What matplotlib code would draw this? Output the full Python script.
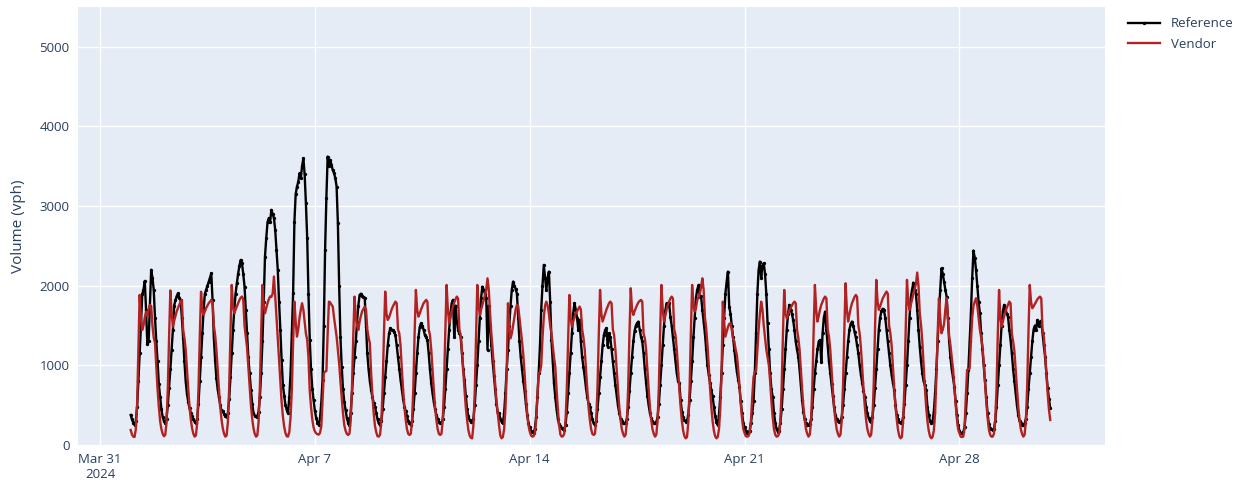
import matplotlib
matplotlib.use("Agg")
import matplotlib.pyplot as plt
import numpy as np
import pandas as pd

# hourly volumes (vph), one row per day, Apr 1 - Apr 30 2024
ref_hourly = [
    [377, 320, 280, 250, 300, 480, 800, 1150, 1500, 1890, 1950, 2060, 1700, 1270, 1300, 1750, 2200, 2100, 1950, 1600, 1300, 1050, 760, 600],
    [450, 350, 300, 272, 330, 500, 720, 950, 1190, 1450, 1750, 1820, 1870, 1905, 1850, 1820, 1600, 1340, 1050, 800, 640, 540, 460, 400],
    [360, 320, 290, 276, 330, 520, 800, 1100, 1400, 1700, 1900, 1950, 2000, 2050, 2100, 2157, 1820, 1350, 1068, 838, 700, 600, 500, 430],
    [430, 390, 370, 356, 400, 580, 850, 1150, 1450, 1700, 1900, 2031, 2150, 2250, 2324, 2280, 2150, 1990, 1700, 1403, 1100, 900, 692, 520],
    [400, 370, 360, 356, 420, 600, 900, 1300, 1800, 2366, 2600, 2800, 2850, 2800, 2952, 2900, 2850, 2700, 2450, 2198, 1800, 1450, 1068, 750],
    [620, 500, 440, 398, 600, 900, 1400, 1905, 2800, 3150, 3245, 3300, 3413, 3350, 3500, 3601, 3400, 3036, 2600, 1900, 1319, 950, 700, 560],
    [430, 340, 280, 251, 330, 520, 816, 1500, 2449, 3100, 3622, 3500, 3580, 3520, 3450, 3413, 3350, 3245, 2784, 2000, 1350, 984, 700, 540],
    [440, 340, 280, 251, 400, 650, 900, 1100, 1300, 1550, 1750, 1884, 1900, 1870, 1860, 1850, 1487, 1150, 950, 800, 690, 600, 530, 481],
    [400, 320, 270, 251, 300, 450, 650, 850, 1050, 1250, 1400, 1466, 1450, 1440, 1420, 1380, 1250, 1100, 960, 820, 700, 580, 480, 430],
    [360, 300, 270, 251, 300, 450, 650, 900, 1150, 1350, 1480, 1529, 1500, 1450, 1382, 1350, 1319, 1150, 950, 780, 649, 540, 450, 380],
    [330, 290, 275, 272, 320, 480, 700, 950, 1200, 1450, 1650, 1780, 1822, 1361, 1750, 1550, 1450, 1400, 1361, 1150, 950, 817, 620, 450],
    [360, 310, 290, 293, 330, 500, 750, 1000, 1300, 1600, 1850, 1989, 1950, 1900, 1850, 1194, 1750, 1500, 1250, 1050, 870, 700, 520, 400],
    [400, 330, 290, 272, 400, 650, 950, 1194, 1500, 1750, 1950, 2052, 2000, 1960, 1900, 1600, 1300, 1100, 950, 800, 680, 520, 380, 280],
    [220, 180, 160, 147, 200, 350, 600, 900, 1236, 1700, 2000, 2261, 2100, 1947, 2100, 2177, 1800, 1319, 1050, 775, 600, 450, 330, 260],
    [240, 210, 195, 188, 250, 420, 650, 900, 1150, 1400, 1650, 1780, 1700, 1600, 1445, 1570, 1300, 1100, 980, 859, 720, 600, 520, 481],
    [400, 320, 270, 251, 300, 450, 650, 850, 1050, 1250, 1380, 1440, 1466, 1236, 1400, 1350, 1200, 1050, 900, 750, 620, 500, 400, 330],
    [300, 280, 272, 275, 330, 480, 680, 900, 1100, 1300, 1430, 1500, 1530, 1550, 1450, 1361, 1300, 1150, 950, 780, 620, 500, 400, 340],
    [300, 280, 272, 285, 350, 520, 750, 1000, 1250, 1500, 1680, 1780, 1760, 1780, 1612, 1500, 1350, 1200, 1050, 900, 800, 775, 560, 420],
    [350, 310, 293, 300, 380, 560, 800, 1050, 1350, 1600, 1850, 1950, 2010, 1860, 1870, 1700, 1550, 1400, 1200, 1000, 880, 780, 690, 610],
    [480, 360, 290, 251, 380, 600, 900, 1250, 1600, 1900, 2050, 2177, 1738, 1650, 1500, 1350, 1194, 1050, 920, 820, 733, 550, 400, 280],
    [220, 180, 155, 147, 180, 280, 400, 550, 900, 1400, 1900, 2200, 2303, 2100, 2250, 2282, 2150, 1900, 1529, 1200, 900, 700, 605, 400],
    [280, 200, 168, 180, 280, 450, 700, 950, 1200, 1450, 1650, 1759, 1700, 1650, 1570, 1450, 1300, 1200, 1109, 950, 750, 560, 420, 320],
    [270, 255, 251, 265, 320, 480, 700, 900, 1050, 1200, 1300, 1319, 1046, 1400, 1600, 1675, 1450, 1250, 1050, 900, 760, 620, 480, 380],
    [330, 300, 293, 295, 350, 500, 700, 900, 1100, 1300, 1450, 1520, 1550, 1500, 1420, 1350, 1250, 1150, 1000, 880, 780, 680, 607, 480],
    [400, 340, 300, 293, 350, 500, 720, 950, 1200, 1450, 1600, 1680, 1710, 1690, 1600, 1450, 1300, 1150, 1000, 880, 780, 690, 500, 380],
    [330, 290, 275, 280, 350, 520, 750, 1000, 1300, 1600, 1850, 1950, 2039, 1947, 1900, 1700, 1450, 1236, 1050, 900, 800, 750, 690, 480],
    [380, 300, 272, 290, 420, 650, 950, 1300, 1650, 1950, 2219, 2150, 2050, 1950, 1863, 1600, 1300, 1100, 950, 850, 733, 550, 380, 250],
    [180, 150, 148, 160, 220, 400, 650, 942, 1300, 1654, 2100, 2441, 2350, 2198, 2000, 1800, 1654, 1400, 1200, 1000, 817, 600, 400, 260],
    [210, 195, 188, 200, 300, 480, 750, 1000, 1250, 1500, 1680, 1759, 1700, 1650, 1612, 1450, 1319, 1150, 950, 800, 650, 500, 380, 300],
    [270, 251, 255, 270, 330, 480, 700, 900, 1100, 1300, 1450, 1500, 1450, 1570, 1500, 1550, 1560, 1400, 1250, 1109, 900, 720, 580, 461],
]

vendor_hourly = [
    [188, 130, 105, 100, 200, 500, 1200, 1885, 1600, 1445, 1500, 1600, 1675, 1620, 1700, 1760, 1740, 1500, 1350, 1280, 1000, 700, 480, 300],
    [200, 140, 110, 126, 280, 700, 1350, 1940, 1650, 1487, 1560, 1620, 1680, 1720, 1760, 1800, 1820, 1450, 1340, 1200, 950, 700, 480, 320],
    [210, 140, 105, 120, 280, 700, 1350, 1925, 1700, 1633, 1680, 1720, 1750, 1780, 1800, 1822, 1800, 1500, 1380, 1200, 950, 700, 480, 320],
    [210, 140, 105, 120, 290, 720, 1400, 2010, 1750, 1654, 1700, 1740, 1780, 1820, 1850, 1864, 1830, 1500, 1361, 1220, 980, 720, 500, 330],
    [210, 140, 105, 120, 290, 720, 1400, 2010, 1750, 1654, 1720, 1780, 1830, 1864, 1860, 1900, 2115, 1870, 1600, 1350, 1050, 780, 540, 360],
    [230, 150, 110, 105, 160, 350, 700, 1300, 1800, 1550, 1361, 1450, 1600, 1700, 1780, 1700, 1550, 1400, 1319, 1100, 680, 480, 320, 220],
    [170, 147, 135, 130, 150, 230, 550, 900, 921, 930, 1400, 1800, 1790, 1760, 1738, 1600, 1480, 1361, 1200, 1026, 800, 600, 398, 250],
    [180, 140, 126, 140, 300, 700, 1350, 1863, 1600, 1500, 1445, 1550, 1620, 1680, 1710, 1738, 1700, 1450, 1350, 1277, 900, 620, 400, 240],
    [160, 110, 105, 130, 300, 720, 1380, 1926, 1650, 1570, 1600, 1650, 1700, 1740, 1770, 1800, 1780, 1450, 1403, 1250, 950, 700, 480, 320],
    [200, 140, 126, 140, 300, 720, 1400, 1947, 1700, 1612, 1650, 1700, 1740, 1780, 1800, 1822, 1800, 1450, 1380, 1200, 950, 700, 480, 320],
    [200, 140, 126, 140, 310, 740, 1420, 2010, 1700, 1529, 1600, 1680, 1740, 1790, 1830, 1863, 1840, 1450, 1380, 1200, 950, 700, 480, 320],
    [190, 120, 90, 84, 250, 650, 1350, 2010, 1750, 1633, 1700, 1760, 1820, 1880, 1950, 2093, 1950, 1650, 1400, 1200, 980, 750, 550, 400],
    [250, 120, 84, 100, 200, 450, 900, 1780, 1500, 1340, 1400, 1500, 1600, 1700, 1759, 1740, 1600, 1450, 1300, 1131, 900, 620, 400, 250],
    [170, 120, 105, 110, 150, 300, 600, 900, 910, 1000, 1350, 1600, 1750, 1800, 1750, 1650, 1500, 1400, 1250, 1100, 980, 700, 450, 250],
    [130, 105, 110, 140, 300, 700, 1300, 1884, 1600, 1487, 1550, 1600, 1650, 1680, 1710, 1738, 1700, 1450, 1350, 1200, 950, 700, 480, 320],
    [200, 140, 126, 140, 300, 720, 1380, 1947, 1650, 1550, 1600, 1650, 1700, 1740, 1780, 1800, 1780, 1450, 1380, 1200, 950, 700, 480, 320],
    [200, 140, 105, 130, 300, 720, 1400, 1968, 1700, 1633, 1680, 1720, 1760, 1790, 1810, 1822, 1800, 1400, 1340, 1200, 950, 700, 480, 320],
    [200, 140, 105, 130, 310, 740, 1420, 2010, 1700, 1550, 1620, 1700, 1760, 1800, 1840, 1863, 1840, 1450, 1380, 1200, 950, 700, 480, 300],
    [180, 110, 84, 100, 280, 700, 1400, 2010, 1750, 1675, 1720, 1822, 1850, 1900, 1980, 2093, 1950, 1600, 1466, 1250, 1000, 720, 480, 300],
    [180, 110, 84, 100, 200, 450, 900, 1800, 1550, 1361, 1420, 1480, 1520, 1529, 1450, 1340, 1300, 1200, 1131, 950, 750, 520, 340, 200],
    [150, 110, 105, 110, 150, 300, 600, 850, 921, 930, 1200, 1450, 1650, 1800, 1700, 1500, 1350, 1200, 1100, 1000, 800, 550, 350, 200],
    [130, 105, 110, 140, 300, 700, 1380, 1947, 1650, 1591, 1640, 1690, 1720, 1750, 1780, 1800, 1780, 1450, 1350, 1200, 950, 700, 480, 320],
    [200, 140, 105, 130, 300, 740, 1420, 2010, 1700, 1550, 1620, 1700, 1760, 1800, 1840, 1863, 1840, 1450, 1361, 1200, 950, 700, 480, 320],
    [200, 140, 105, 130, 310, 740, 1430, 2031, 1700, 1550, 1640, 1720, 1780, 1820, 1860, 1884, 1860, 1500, 1400, 1220, 960, 710, 490, 320],
    [200, 140, 105, 130, 320, 760, 1450, 2073, 1800, 1696, 1740, 1790, 1840, 1870, 1900, 1926, 1900, 1500, 1403, 1250, 980, 720, 490, 320],
    [190, 110, 84, 100, 300, 740, 1450, 2073, 1800, 1696, 1760, 1830, 1900, 1960, 2020, 2165, 2000, 1650, 1507, 1300, 1000, 720, 480, 300],
    [180, 110, 84, 100, 180, 400, 850, 1400, 1843, 1600, 1403, 1450, 1520, 1700, 1843, 1600, 1361, 1250, 1100, 950, 750, 520, 330, 200],
    [150, 105, 100, 105, 200, 600, 942, 950, 960, 1300, 1600, 1750, 1800, 1843, 1750, 1600, 1450, 1350, 1236, 1050, 800, 550, 350, 200],
    [130, 105, 105, 140, 300, 700, 1380, 1947, 1600, 1487, 1550, 1620, 1680, 1720, 1760, 1801, 1780, 1400, 1300, 1180, 950, 700, 480, 320],
    [200, 140, 105, 130, 310, 740, 1420, 2010, 1800, 1717, 1740, 1770, 1800, 1830, 1850, 1863, 1840, 1450, 1361, 1150, 900, 650, 450, 314],
]

tick_dates = ["2024-03-31", "2024-04-07", "2024-04-14", "2024-04-21", "2024-04-28"]
tick_labels = ["Mar 31\n2024", "Apr 7", "Apr 14", "Apr 21", "Apr 28"]
y_ticks = [0, 1000, 2000, 3000, 4000, 5000]

ref = np.array(ref_hourly).ravel()
vendor = np.array(vendor_hourly).ravel()
times = pd.date_range("2024-04-01 00:00", periods=len(ref), freq="h")

plt.rcParams["font.family"] = ["Open Sans", "DejaVu Sans"]
txt = "#2a3f5f"

fig = plt.figure(figsize=(12.41, 4.82), dpi=100)
ax = fig.add_axes([0.0629, 0.0768, 0.8275, 0.9087])
ax.set_facecolor("#e5ecf6")
for s in ax.spines.values():
    s.set_visible(False)

ax.plot(times, ref, color="black", lw=1.7, marker="o", ms=1.4, label="Reference", zorder=3)
ax.plot(times, vendor, color="#b22222", lw=1.7, label="Vendor", zorder=4)

ax.set_xlim(pd.Timestamp("2024-03-30 06:50"), pd.Timestamp("2024-05-02 17:50"))
ax.set_ylim(0, 5500)
ax.set_xticks(pd.to_datetime(tick_dates))
ax.set_xticklabels(tick_labels)
ax.set_yticks(y_ticks)
ax.grid(True, color="white", lw=1.0, zorder=0)
ax.set_axisbelow(True)
ax.tick_params(length=0, colors=txt, labelsize=9.5, pad=6)
ax.set_ylabel("Volume (vph)", color=txt, fontsize=11, labelpad=10)

fig.legend(loc="upper left", bbox_to_anchor=(0.905, 0.975), frameon=False,
           fontsize=9.5, labelcolor=txt, handlelength=2.4, borderaxespad=0,
           labelspacing=0.55)

fig.savefig("out.png", dpi=100)
